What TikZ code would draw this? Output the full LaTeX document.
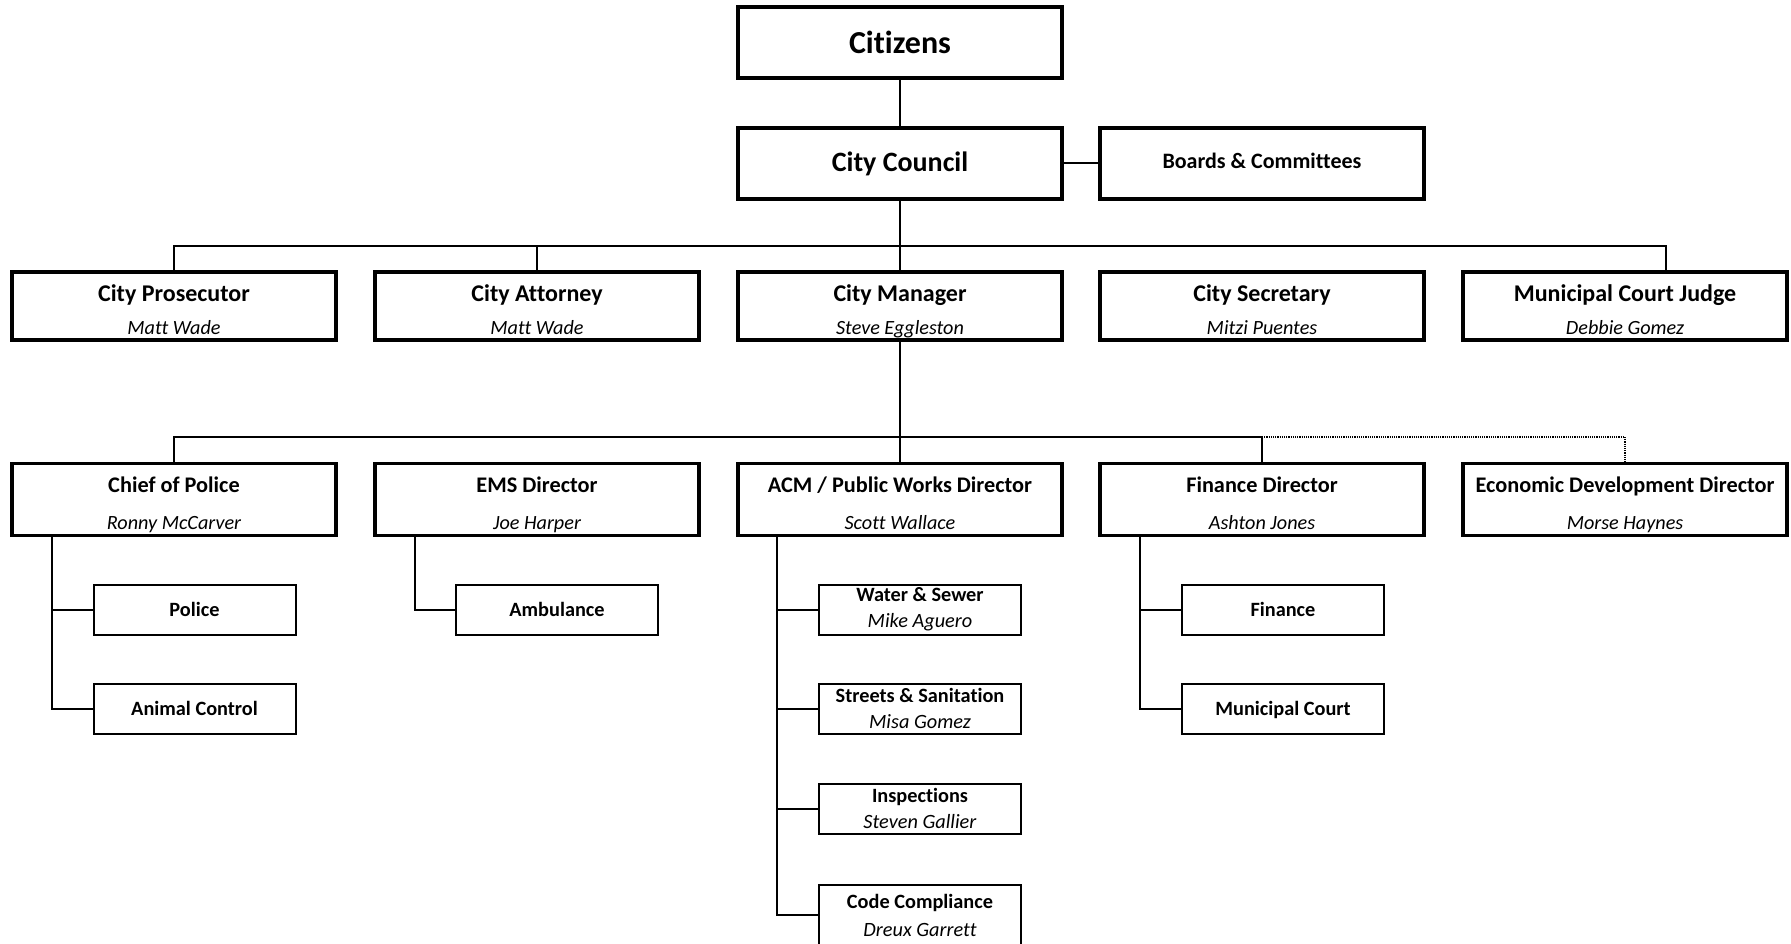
\documentclass[tikz,border=0pt]{standalone}
\usepackage{fontspec}
\setmainfont{Carlito}[Ligatures={NoCommon}]
\newcommand{\orgtwo}[3]{\rule{0pt}{29pt}\textbf{#2}\\{\fontsize{20.2}{#1}\selectfont\itshape #3\rule[-6pt]{0pt}{6pt}}}
\begin{document}
\begin{tikzpicture}[x=1pt,y=-1pt,
  bigbox/.style={draw, line width=3.2pt, minimum width=324pt, minimum height=71pt, inner sep=0pt, align=center},
  rowbox/.style={draw, line width=3.2pt, minimum width=324pt, minimum height=68pt, inner sep=0pt, align=center, font=\fontsize{24}{33}\selectfont},
  row3box/.style={rowbox, minimum height=71pt, font=\fontsize{22.3}{36.5}\selectfont},
  subbox/.style={draw, line width=2pt, minimum width=202pt, minimum height=50pt, inner sep=0pt, align=center, font=\fontsize{20.3}{26}\selectfont},
  onebox/.style={subbox, text depth=0pt, font=\fontsize{20.3}{20.3}\selectfont\bfseries},
  conn/.style={line width=2pt},
  dconn/.style={line width=1.2pt, densely dotted}]
\useasboundingbox (0,0) rectangle (1791,944);
% top
\node[bigbox, font=\fontsize{32}{32}\selectfont\bfseries] (citizens) at (900,42.5) {Citizens};
\node[bigbox, font=\fontsize{28}{28}\selectfont\bfseries] (council) at (900,163.5) {City Council};
\node[bigbox, text depth=4.6pt, font=\fontsize{22}{22}\selectfont\bfseries] (boards) at (1262,163.5) {Boards \& Committees};
% row 2
\node[rowbox] (pros) at (174,306) {\orgtwo{33}{City Prosecutor}{Matt Wade}};
\node[rowbox] (atty) at (537,306) {\orgtwo{33}{City Attorney}{Matt Wade}};
\node[rowbox] (mgr) at (900,306) {\orgtwo{33}{City Manager}{Steve Eggleston}};
\node[rowbox] (sec) at (1262,306) {\orgtwo{33}{City Secretary}{Mitzi Puentes}};
\node[rowbox] (judge) at (1625,306) {\orgtwo{33}{Municipal Court Judge}{Debbie Gomez}};
% row 3
\node[row3box] (cop) at (174,499.5) {\orgtwo{36.5}{Chief of Police}{Ronny McCarver}};
\node[row3box] (ems) at (537,499.5) {\orgtwo{36.5}{EMS Director}{Joe Harper}};
\node[row3box] (acm) at (900,499.5) {\orgtwo{36.5}{ACM / Public Works Director}{Scott Wallace}};
\node[row3box] (fin) at (1262,499.5) {\orgtwo{36.5}{Finance Director}{Ashton Jones}};
\node[row3box] (econ) at (1625,499.5) {\orgtwo{36.5}{Economic Development Director}{Morse Haynes}};
% sub boxes
\node[onebox] (police) at (194.5,609.5) {Police};
\node[onebox] (animal) at (194.5,708.5) {Animal Control};
\node[onebox] (amb) at (557,609.5) {Ambulance};
\node[subbox] (water) at (920,609.5) {\textbf{Water \& Sewer}\\\textit{Mike Aguero}};
\node[subbox] (streets) at (920,708.5) {\textbf{Streets \& Sanitation}\\\textit{Misa Gomez}};
\node[subbox] (insp) at (920,808.5) {\textbf{Inspections}\\\textit{Steven Gallier}};
\node[subbox, minimum height=60pt, font=\fontsize{20.3}{28}\selectfont] (code) at (920,915) {\textbf{Code Compliance}\\\textit{Dreux Garrett}};
\node[onebox] (finance) at (1283,609.5) {Finance};
\node[onebox] (court) at (1283,708.5) {Municipal Court};
% connectors top
\draw[conn] (citizens.south) -- (council.north);
\draw[conn] (council.east) -- (boards.west);
\draw[conn] (council.south) -- (mgr.north);
\coordinate (h2) at (900,246);
\coordinate (jv) at ([xshift=41pt]judge.north);
\draw[conn] (pros.north) |- (h2) -| (jv);
\draw[conn] (atty.north) -- (atty.north |- h2);
% row 3 connectors
\coordinate (h3) at (900,437);
\draw[conn] (mgr.south) -- (acm.north);
\draw[conn] (cop.north) |- (h3) -| (fin.north);
\draw[dconn] (fin.north |- h3) -| (econ.north);
% sub connectors
\coordinate (copv) at ([xshift=42pt]cop.south west);
\draw[conn] (copv) |- (animal.west);
\draw[conn] (police.west) -- (police.west -| copv);
\coordinate (emsv) at ([xshift=42pt]ems.south west);
\draw[conn] (emsv) |- (amb.west);
\coordinate (acmv) at ([xshift=41pt]acm.south west);
\draw[conn] (acmv) |- (code.west);
\draw[conn] (water.west) -- (water.west -| acmv);
\draw[conn] (streets.west) -- (streets.west -| acmv);
\draw[conn] (insp.west) -- (insp.west -| acmv);
\coordinate (finv) at ([xshift=42pt]fin.south west);
\draw[conn] (finv) |- (court.west);
\draw[conn] (finance.west) -- (finance.west -| finv);
\end{tikzpicture}
\end{document}
